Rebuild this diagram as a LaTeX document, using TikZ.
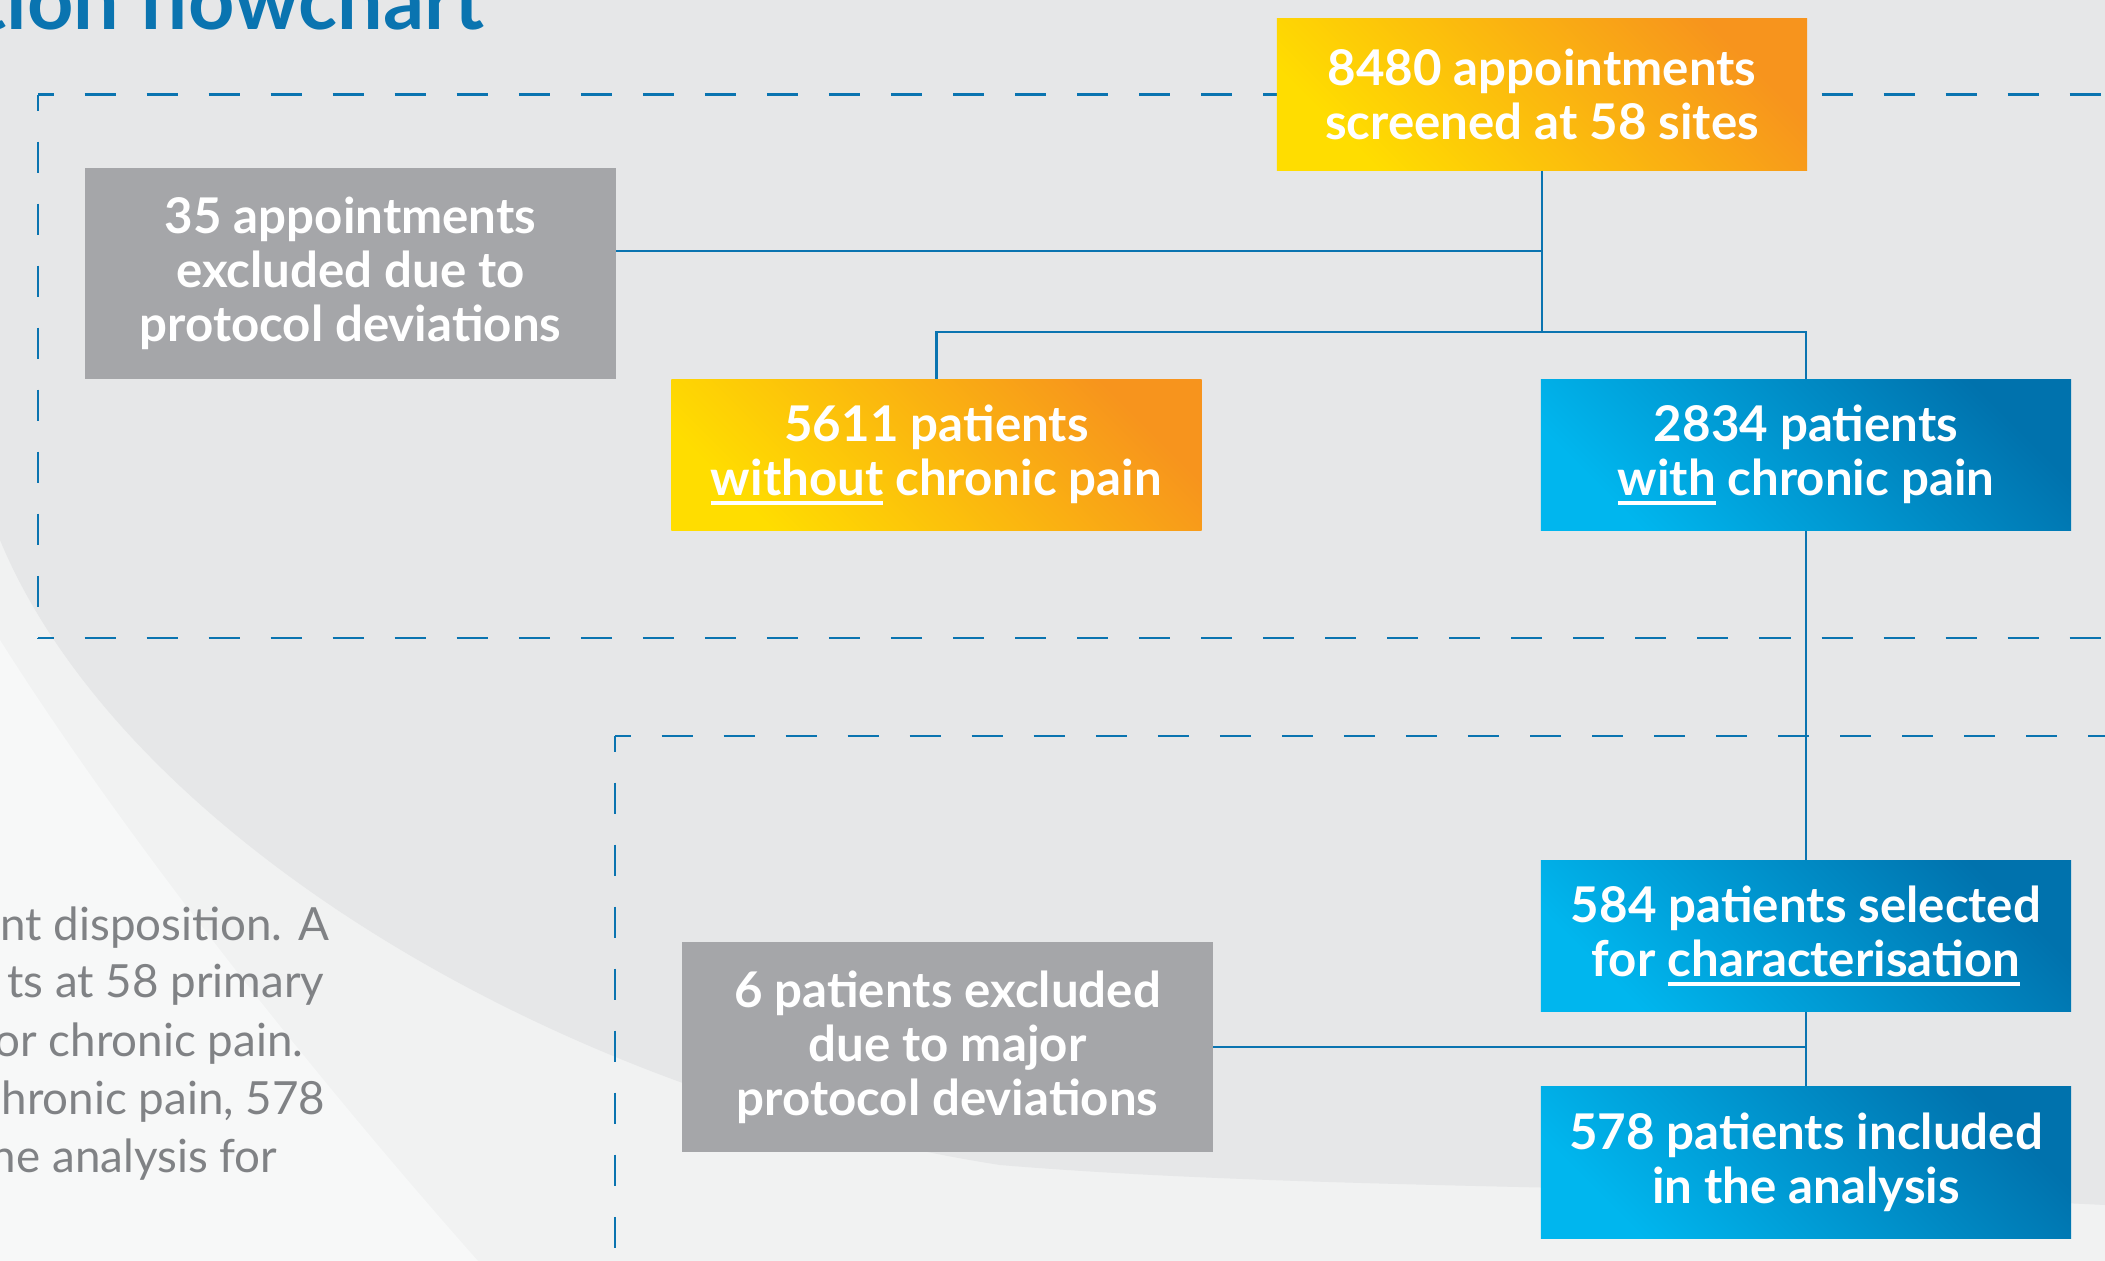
\documentclass[tikz,border=0pt]{standalone}
\usepackage{fontspec}
\setmainfont{Lato}
\usepackage{xcolor}
\usepackage{tikz}

\definecolor{flowblue}{HTML}{0A74B0}
\definecolor{bgdark}{HTML}{E6E7E8}
\definecolor{bgmid}{HTML}{F1F2F2}
\definecolor{bglight}{HTML}{F7F8F8}
\definecolor{greybox}{HTML}{A5A6A9}
\definecolor{sun}{HTML}{FFDD00}
\definecolor{amber}{HTML}{F7941D}
\definecolor{sky}{HTML}{00B6EE}
\definecolor{deep}{HTML}{0072AD}
\definecolor{bodygrey}{HTML}{808285}

% thick white underline used inside the boxes
\newcommand\undl[1]{\sbox0{#1}\rlap{\rule[-2.9pt]{\wd0}{1.3pt}}\usebox0}

\begin{document}
\begin{tikzpicture}[x=0.01cm, y=-0.01cm,
    box/.style={minimum width=5.3cm, minimum height=1.51cm, inner sep=0pt, align=center,
                text=white, font=\bfseries\fontsize{14}{15.4}\selectfont},
    warm/.style={box, bottom color=sun, top color=amber, shading angle=-45},
    cool/.style={box, bottom color=sky, top color=deep, shading angle=-45},
    dropped/.style={box, fill=greybox, minimum height=2.1cm},
    link/.style={draw=flowblue, line width=0.8pt},
    bound/.style={draw=flowblue, line width=0.85pt, dash pattern=on 0.31cm off 0.31cm, dash phase=0.155cm},
    body/.style={anchor=base east, inner sep=0pt, text=bodygrey, font=\fontsize{13}{16}\selectfont}]

    \useasboundingbox (0,0) rectangle (2105,1261);
    \clip (0,0) rectangle (2105,1261);

    % background
    \fill[bgmid] (0,0) rectangle (2105,1261);
    \fill[bglight] (0,640) .. controls (120,830) and (300,1060) .. (478,1261) -- (0,1261) -- cycle;
    \fill[bgdark] (0,0) -- (2105,0) -- (2105,1205) .. controls (1700,1185) and (1300,1190) .. (1000,1165)
        .. controls (550,1095) and (120,830) .. (0,540) -- cycle;

    % title and caption
    \node[anchor=base west, inner sep=0pt, text=flowblue, font=\bfseries\fontsize{23}{27}\selectfont]
        (title) at (6,30) {\llap{t}ion flowchart};
    \node[body] (cap1) at (330,940) {nt disposition. A};
    \node[body] (cap2) at (325,998) {ts at 58 primary};
    \node[body] (cap3) at (304,1056) {or chronic pain.};
    \node[body] (cap4) at (326,1114) {hronic pain, 578};
    \node[body] (cap5) at (278,1172) {he analysis for};

    % dashed frames
    \draw[bound] (38,95) -- (2200,95);
    \draw[bound] (38,95) -- (38,638);
    \draw[bound] (38,638) -- (2200,638);
    \draw[bound] (615,736) -- (2200,736);
    \draw[bound] (615,736) -- (615,1300);

    % boxes
    \node[warm] (screened) at (1542,94.5) {8480 appointments\\screened at 58 sites};
    \node[dropped] (excl1) at (350.5,273.5) {35 appointments\\excluded due to\\protocol deviations};
    \node[warm] (without) at (936.5,455) {5611 patients\\\undl{without} chronic pain};
    \node[cool] (with) at (1806,455) {2834 patients\\\undl{with} chronic pain};
    \node[cool] (selected) at (1806,936) {584 patients selected\\for \undl{characterisation}};
    \node[cool] (included) at (1806,1162.5) {578 patients included\\in the analysis};
    \node[dropped] (excl2) at (947.5,1047) {6 patients excluded\\due to major\\protocol deviations};

    % connectors
    \coordinate (split) at (1542,251);
    \coordinate (fork) at (1542,332);
    \coordinate (drop) at (1806,1047);
    \draw[link] (screened) -- (fork);
    \draw[link] (split) -- (split -| excl1.east);
    \draw[link] (without) |- (fork) -| (with);
    \draw[link] (with) -- (selected);
    \draw[link] (selected) -- (included);
    \draw[link] (drop) -- (excl2);
\end{tikzpicture}
\end{document}
